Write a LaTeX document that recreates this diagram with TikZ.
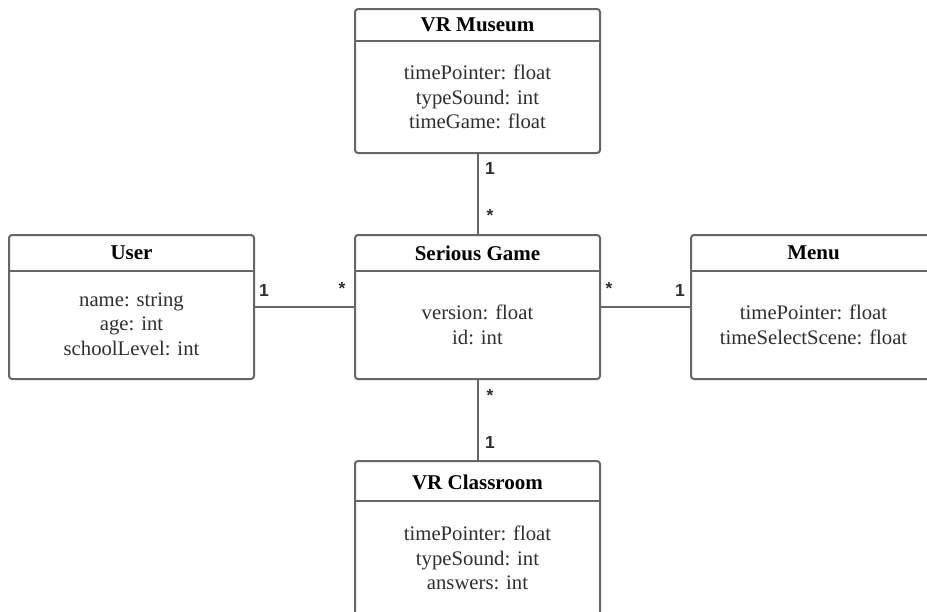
\documentclass[tikz,border=0pt]{standalone}
\usepackage{fontspec}
\setmainfont{Liberation Serif}
\newfontfamily\multfont{Liberation Sans}
\definecolor{edgegray}{HTML}{666666}
\definecolor{attrgray}{HTML}{2F2F2F}
\begin{document}
\begin{tikzpicture}[x=1pt,y=-1pt,
  classbox/.style={draw=edgegray, line width=2pt, rounded corners=3pt,
    anchor=north west, minimum width=245pt, outer sep=0pt, inner sep=0pt},
  classtitle/.style={font=\fontsize{21}{24.5}\selectfont\bfseries, text=black, inner sep=0pt},
  attrs/.style={font=\fontsize{20.7}{24.5}\selectfont, text=attrgray, align=center, inner sep=0pt},
  divider/.style={draw=edgegray, line width=2pt},
  conn/.style={draw=edgegray, line width=2pt},
  mult/.style={font=\multfont\bfseries\fontsize{17.5}{17.5}\selectfont, text=attrgray, inner sep=0pt}]
\clip (0,0) rectangle (927,611);
\fill[white] (0,0) rectangle (927,611);

% class boxes
\node[classbox, minimum height=144pt] (mus) at (355,9) {};
\node[classbox, minimum height=144pt] (user) at (9,235) {};
\node[classbox, minimum height=144pt] (sg) at (355,235) {};
\node[classbox, minimum height=144pt] (menu) at (691,235) {};
\node[classbox, minimum height=154pt] (cls) at (355,461) {};

% header dividers
\draw[divider] (355,41) -- (600,41);
\draw[divider] (9,271) -- (254,271);
\draw[divider] (355,271) -- (600,271);
\draw[divider] (691,271) -- (936,271);
\draw[divider] (355,501) -- (600,501);

% titles
\node[classtitle] (musT) at (477.5,25) {VR Museum};
\node[classtitle] (userT) at (131.5,253) {User};
\node[classtitle] (sgT) at (477.5,253) {Serious Game};
\node[classtitle] (menuT) at (813.5,253) {Menu};
\node[classtitle] (clsT) at (477.5,482) {VR Classroom};

% attributes
\node[attrs] (musA) at (477.5,97) {timePointer: float\\typeSound: int\\timeGame: float};
\node[attrs] (userA) at (131.5,324) {name: string\\age: int\\schoolLevel: int};
\node[attrs] (sgA) at (477.5,325) {version: float\\id: int};
\node[attrs] (menuA) at (813.5,325) {timePointer: float\\timeSelectScene: float};
\node[attrs] (clsA) at (477.5,558) {timePointer: float\\typeSound: int\\answers: int};

% associations
\draw[conn] (mus.south) -- (sg.north);
\draw[conn] (user.east) -- (sg.west);
\draw[conn] (sg.east) -- (menu.west);
\draw[conn] (sg.south) -- (cls.north);

% multiplicities
\node[mult] (m1) at (490,168) {1};
\node[mult] (m2) at (490,215) {*};
\node[mult] (m3) at (264,290) {1};
\node[mult] (m4) at (342,288) {*};
\node[mult] (m5) at (609,288) {*};
\node[mult] (m6) at (680,290) {1};
\node[mult] (m7) at (490,395) {*};
\node[mult] (m8) at (490,442) {1};
\end{tikzpicture}
\end{document}
